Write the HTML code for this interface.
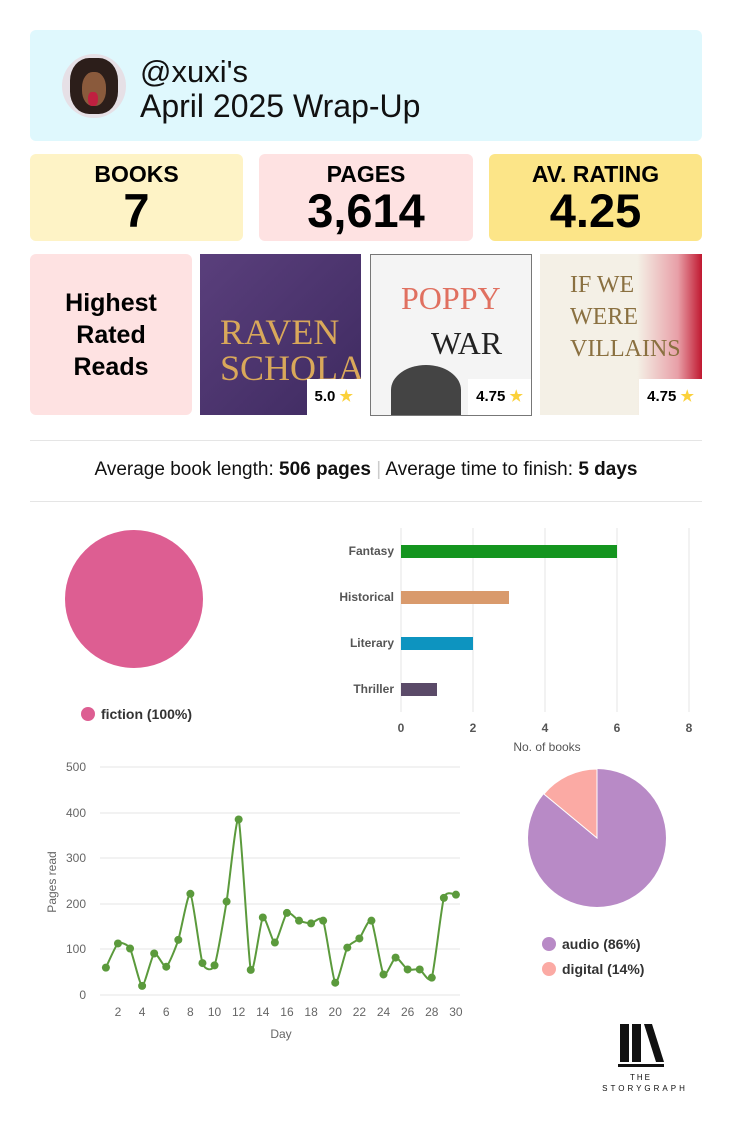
<!DOCTYPE html>
<html><head><meta charset="utf-8"><style>
body{margin:0;width:743px;height:1122px;background:#fff;font-family:"Liberation Sans",sans-serif;position:relative;overflow:hidden}
.a{position:absolute}
.box{position:absolute;border-radius:6px;text-align:center}
.lbl{font-weight:bold;font-size:23px;margin-top:7px}
.num{font-weight:bold;font-size:47px;line-height:46px}
.badge{position:absolute;background:#fff;font-weight:bold;font-size:15px;height:36px;line-height:36px;padding:0 8px;bottom:0;right:0}
.star{color:#fbd13b}
</style></head><body>
<div class="box" style="left:30px;top:30px;width:672px;height:111px;background:#dff8fd;text-align:left">
 <div class="a" style="left:32px;top:24px;width:64px;height:64px;border-radius:50%;background:#e6e0e6;overflow:hidden"><div class="a" style="left:8px;top:4px;width:48px;height:56px;border-radius:40%;background:#2c1e1a"></div><div class="a" style="left:20px;top:18px;width:24px;height:34px;border-radius:45%;background:#8a5a3c"></div><div class="a" style="left:26px;top:38px;width:10px;height:14px;border-radius:40%;background:#c02040"></div></div>
 <div class="a" style="left:110px;top:24px;font-size:31px;color:#111">@xuxi's</div>
 <div class="a" style="left:110px;top:58px;font-size:32px;color:#111">April 2025 Wrap-Up</div>
</div>
<div class="box" style="left:30px;top:154px;width:213px;height:87px;background:#fef3c6"><div class="lbl">BOOKS</div><div class="num">7</div></div>
<div class="box" style="left:259px;top:154px;width:214px;height:87px;background:#fee2e2"><div class="lbl">PAGES</div><div class="num">3,614</div></div>
<div class="box" style="left:489px;top:154px;width:213px;height:87px;background:#fce588"><div class="lbl">AV. RATING</div><div class="num">4.25</div></div>
<div class="box" style="left:30px;top:254px;width:162px;height:161px;background:#fee2e2;font-weight:bold;font-size:25px;line-height:32px;padding-top:33px;box-sizing:border-box">Highest<br>Rated<br>Reads</div>
<div class="a" style="left:200px;top:254px;width:161px;height:161px;background:linear-gradient(135deg,#5a3f7c,#3e2a60);overflow:hidden"><div class="a" style="left:20px;top:60px;font-family:'Liberation Serif',serif;font-size:36px;color:#d9a85a;line-height:36px">RAVEN<br>SCHOLAR</div><div class="badge">5.0 <span class="star">★</span></div></div>
<div class="a" style="left:370px;top:254px;width:160px;height:160px;background:#f4f4f4;border:1px solid #777;overflow:hidden"><div class="a" style="left:30px;top:25px;font-family:'Liberation Serif',serif;font-size:32px;color:#e07060">POPPY</div><div class="a" style="left:60px;top:70px;font-family:'Liberation Serif',serif;font-size:32px;color:#222">WAR</div><div class="a" style="left:20px;top:110px;width:70px;height:50px;border-radius:50% 50% 0 0;background:#444"></div><div class="badge">4.75 <span class="star">★</span></div></div>
<div class="a" style="left:540px;top:254px;width:162px;height:161px;background:linear-gradient(90deg,#f4f0e6 60%,#e8a0a8 85%,#c01830);overflow:hidden"><div class="a" style="left:30px;top:15px;font-family:'Liberation Serif',serif;font-size:24px;color:#8a7040;line-height:32px">IF WE<br>WERE<br>VILLAINS</div><div class="badge">4.75 <span class="star">★</span></div></div>
<div class="a" style="left:30px;top:440px;width:672px;height:1px;background:#e5e5e5"></div>
<div class="a" style="left:20px;top:459px;width:692px;text-align:center;font-size:19px;color:#111">Average book length: <b>506 pages</b> <span style="color:#ccc">|</span> Average time to finish: <b>5 days</b></div>
<div class="a" style="left:30px;top:501px;width:672px;height:1px;background:#e5e5e5"></div>
<svg class="a" style="left:0;top:0" width="743" height="1122" font-family="Liberation Sans, sans-serif">
<circle cx="134" cy="599" r="69" fill="#dd5e92"/>
<circle cx="88" cy="714" r="7" fill="#dd5e92"/><text x="101" y="719" font-size="14" font-weight="bold" fill="#333">fiction (100%)</text>
<g stroke="#e5e5e5"><line x1="401" y1="528" x2="401" y2="712"/><line x1="473" y1="528" x2="473" y2="712"/><line x1="545" y1="528" x2="545" y2="712"/><line x1="617" y1="528" x2="617" y2="712"/><line x1="689" y1="528" x2="689" y2="712"/></g>
<rect x="401" y="545" width="216" height="13" fill="#14951f"/>
<rect x="401" y="591" width="108" height="13" fill="#d99a6c"/>
<rect x="401" y="637" width="72" height="13" fill="#0d94c0"/>
<rect x="401" y="683" width="36" height="13" fill="#5a4a68"/>
<g font-size="12" font-weight="bold" fill="#555" text-anchor="end"><text x="394" y="555">Fantasy</text><text x="394" y="601">Historical</text><text x="394" y="647">Literary</text><text x="394" y="693">Thriller</text></g>
<g font-size="12" font-weight="bold" fill="#555" text-anchor="middle"><text x="401" y="732">0</text><text x="473" y="732">2</text><text x="545" y="732">4</text><text x="617" y="732">6</text><text x="689" y="732">8</text></g>
<text x="547" y="751" font-size="12" fill="#555" text-anchor="middle">No. of books</text>
<g stroke="#e5e5e5"><line x1="100" y1="767" x2="460" y2="767"/><line x1="100" y1="813" x2="460" y2="813"/><line x1="100" y1="858" x2="460" y2="858"/><line x1="100" y1="904" x2="460" y2="904"/><line x1="100" y1="949" x2="460" y2="949"/><line x1="100" y1="995" x2="460" y2="995"/></g>
<g font-size="12" fill="#666" text-anchor="end"><text x="86" y="771">500</text><text x="86" y="817">400</text><text x="86" y="862">300</text><text x="86" y="908">200</text><text x="86" y="953">100</text><text x="86" y="999">0</text></g>
<g font-size="12" fill="#666" text-anchor="middle" id="xt"></g>
<text x="281" y="1038" font-size="12" fill="#666" text-anchor="middle">Day</text>
<text transform="translate(56,882) rotate(-90)" font-size="12" fill="#666" text-anchor="middle">Pages read</text>
<path id="ln" fill="none" stroke="#5b9a3c" stroke-width="2"/>
<g id="pts" fill="#5b9a3c"></g>
<circle cx="597" cy="838" r="69" fill="#b88ac6"/>
<path d="M597 838 L597 769 A69 69 0 0 0 543.9 794 Z" fill="#fbaaa4" stroke="#fff" stroke-width="1"/>
<circle cx="549" cy="944" r="7" fill="#b88ac6"/><text x="562" y="949" font-size="14" font-weight="bold" fill="#333">audio (86%)</text>
<circle cx="549" cy="969" r="7" fill="#fbaaa4"/><text x="562" y="974" font-size="14" font-weight="bold" fill="#333">digital (14%)</text>
<rect x="620" y="1024" width="9" height="38" fill="#111"/><rect x="632" y="1024" width="9" height="38" fill="#111"/><path d="M644 1024 L652 1024 L664 1062 L656 1062 Z" fill="#111"/><rect x="618" y="1064" width="46" height="3" fill="#111"/>
<text x="641" y="1080" font-size="8" fill="#111" text-anchor="middle" letter-spacing="2">THE</text>
<text x="645" y="1091" font-size="8" fill="#111" text-anchor="middle" letter-spacing="3">STORYGRAPH</text>
</svg>
<script>
var d=[60,113,102,20,91,62,121,222,70,65,205,385,55,170,115,180,163,157,163,27,104,124,163,45,82,56,56,38,213,220];
var X=i=>105.9+i*12.07,Y=v=>995-v*0.456;
var p=d.map((v,i)=>[X(i),Y(v)]),s="M"+p[0].join(" ");
for(var i=0;i<p.length-1;i++){var a=p[i-1]||p[i],b=p[i],c=p[i+1],e=p[i+2]||c;
s+=" C"+(b[0]+(c[0]-a[0])/10)+" "+(b[1]+(c[1]-a[1])/10)+" "+(c[0]-(e[0]-b[0])/10)+" "+(c[1]-(e[1]-b[1])/10)+" "+c[0]+" "+c[1];}
document.getElementById("ln").setAttribute("d",s);
var g="";p.forEach(q=>g+='<circle cx="'+q[0]+'" cy="'+q[1]+'" r="4"/>');document.getElementById("pts").innerHTML=g;
var t="";for(var k=2;k<=30;k+=2)t+='<text x="'+X(k-1)+'" y="1016">'+k+'</text>';document.getElementById("xt").innerHTML=t;
</script>
</body></html>
